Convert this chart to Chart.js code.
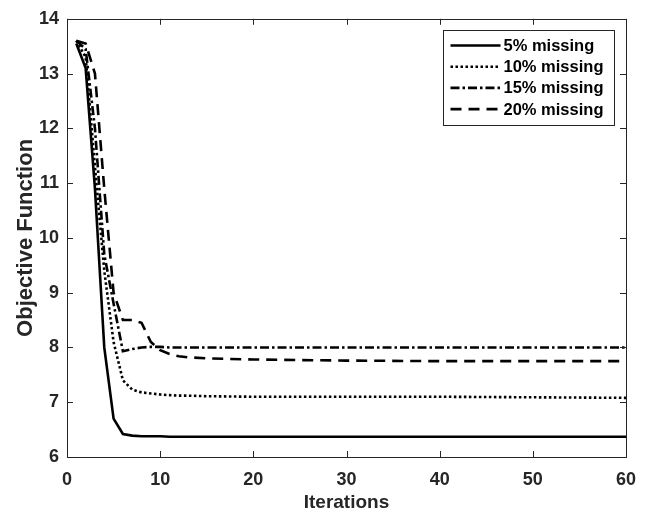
<!DOCTYPE html>
<html lang="en">
<head>
<meta charset="UTF-8" />
<title>Objective Function vs Iterations</title>
<script src="https://cdn.jsdelivr.net/npm/chart.js@4"></script>
<style>
    body { margin: 0; padding: 0; background: #fff; }
    #wrap { width: 649px; height: 515px; }
</style>
</head>
<body>
<div id="wrap"><canvas id="objChart" width="649" height="515"></canvas></div>
<script>
// values
const iterations = [1, 2, 3, 4, 5, 6, 7, 8, 9, 10, 11, 12, 13, 15, 20, 30, 40, 50, 60];
const seriesLabels = ['5% missing', '10% missing', '15% missing', '20% missing'];
const missing5  = [13.55, 13.1, 10.9, 8.0, 6.7, 6.42, 6.39, 6.38, 6.38, 6.38, 6.37, 6.37, 6.37, 6.37, 6.37, 6.37, 6.37, 6.37, 6.37];
const missing10 = [13.6, 13.3, 11.3, 9.4, 8.1, 7.4, 7.23, 7.18, 7.16, 7.14, 7.13, 7.12, 7.12, 7.11, 7.1, 7.1, 7.1, 7.09, 7.08];
const missing15 = [13.6, 13.45, 12.0, 9.7, 8.8, 7.93, 7.97, 8.0, 8.01, 8.01, 8.0, 8.0, 8.0, 8.0, 8.0, 8.0, 8.0, 8.0, 8.0];
const missing20 = [13.6, 13.55, 13.0, 10.9, 9.0, 8.5, 8.5, 8.45, 8.1, 7.95, 7.88, 7.84, 7.82, 7.8, 7.78, 7.76, 7.75, 7.75, 7.75];
const xTicks = [0, 10, 20, 30, 40, 50, 60];
const yTicks = [6, 7, 8, 9, 10, 11, 12, 13, 14];

const axisColor = '#262626';
const fontFamily = '"Liberation Sans", Arial, sans-serif';

function toPoints(values) {
    return values.map((v, i) => ({ x: iterations[i], y: v }));
}

const styles = [
    { dash: [] },
    { dash: [2.5, 2.5] },
    { dash: [9, 3, 2.5, 3] },
    { dash: [11, 7] }
];
const seriesValues = [missing5, missing10, missing15, missing20];

const datasets = seriesValues.map((vals, i) => ({
    label: seriesLabels[i],
    data: toPoints(vals),
    borderColor: '#000',
    borderWidth: 2.6,
    borderDash: styles[i].dash,
    pointRadius: 0,
    tension: 0,
    fill: false
}));

// MATLAB style box with inward ticks
const boxPlugin = {
    id: 'boxTicks',
    afterDatasetsDraw(chart) {
        const { ctx, chartArea: a, scales: { x, y } } = chart;
        ctx.save();
        ctx.strokeStyle = axisColor;
        ctx.lineWidth = 1;
        ctx.setLineDash([]);
        ctx.strokeRect(Math.round(a.left) + 0.5, Math.round(a.top) + 0.5,
            Math.round(a.right - a.left), Math.round(a.bottom - a.top));
        const len = 6;
        ctx.beginPath();
        xTicks.forEach(t => {
            const px = Math.round(x.getPixelForValue(t)) + 0.5;
            ctx.moveTo(px, a.bottom); ctx.lineTo(px, a.bottom - len);
            ctx.moveTo(px, a.top); ctx.lineTo(px, a.top + len);
        });
        yTicks.forEach(t => {
            const py = Math.round(y.getPixelForValue(t)) + 0.5;
            ctx.moveTo(a.left, py); ctx.lineTo(a.left + len, py);
            ctx.moveTo(a.right, py); ctx.lineTo(a.right - len, py);
        });
        ctx.stroke();
        ctx.restore();
    },
    afterDraw(chart) {
        // legend box, top right
        const ctx = chart.ctx;
        const bx = 443.5, by = 30.5, bw = 171, bh = 95;
        ctx.save();
        ctx.fillStyle = '#fff';
        ctx.fillRect(bx, by, bw, bh);
        ctx.strokeStyle = axisColor;
        ctx.lineWidth = 1;
        ctx.setLineDash([]);
        ctx.strokeRect(bx, by, bw, bh);
        ctx.font = 'bold 16.5px ' + fontFamily;
        ctx.textBaseline = 'middle';
        ctx.fillStyle = '#000';
        chart.data.datasets.forEach((ds, i) => {
            const cy = by + 15 + i * 21.2;
            ctx.beginPath();
            ctx.strokeStyle = ds.borderColor;
            ctx.lineWidth = ds.borderWidth;
            ctx.setLineDash(ds.borderDash);
            ctx.moveTo(bx + 7, cy);
            ctx.lineTo(bx + 57, cy);
            ctx.stroke();
            ctx.fillText(ds.label, bx + 60, cy + 1);
        });
        ctx.restore();
    }
};

new Chart(document.getElementById('objChart'), {
    type: 'line',
    data: { datasets: datasets },
    options: {
        responsive: false,
        devicePixelRatio: 1,
        animation: false,
        layout: { padding: { top: 15, right: 23, left: 0, bottom: 0 } },
        plugins: { legend: { display: false }, tooltip: { enabled: false } },
        scales: {
            x: {
                type: 'linear',
                min: 0,
                max: 60,
                afterFit(scale) { scale.height = 58; },
                afterBuildTicks(scale) { scale.ticks = xTicks.map(v => ({ value: v })); },
                grid: { display: false, drawTicks: false },
                border: { display: false },
                ticks: {
                    padding: 12,
                    color: axisColor,
                    font: { family: fontFamily, size: 18, weight: 'bold' }
                },
                title: {
                    display: true,
                    text: 'Iterations',
                    color: axisColor,
                    padding: { top: 0, bottom: 1 },
                    font: { family: fontFamily, size: 19, weight: 'bold' }
                }
            },
            y: {
                min: 6,
                max: 14,
                afterFit(scale) { scale.width = 67; },
                afterBuildTicks(scale) { scale.ticks = yTicks.map(v => ({ value: v })); },
                grid: { display: false, drawTicks: false },
                border: { display: false },
                ticks: {
                    padding: 8,
                    color: axisColor,
                    font: { family: fontFamily, size: 18, weight: 'bold' }
                },
                title: {
                    display: true,
                    text: 'Objective Function',
                    color: axisColor,
                    padding: { top: 13, bottom: 0 },
                    font: { family: fontFamily, size: 22, weight: 'bold' }
                }
            }
        }
    },
    plugins: [boxPlugin]
});
</script>
</body>
</html>
